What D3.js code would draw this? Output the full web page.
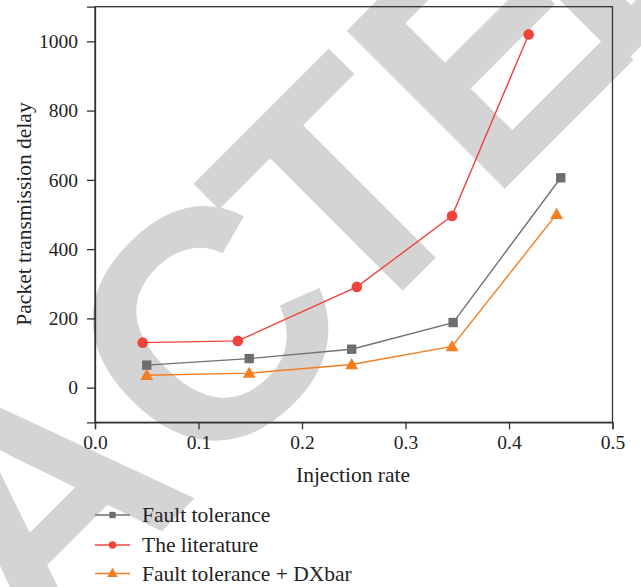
<!DOCTYPE html>
<html><head><meta charset="utf-8">
<script src="https://cdn.jsdelivr.net/npm/d3@7"></script>
<style>body{margin:0;background:#fff}svg{display:block}</style>
</head><body>
<script>
const seriesNames = ["Fault tolerance", "The literature", "Fault tolerance + DXbar"];
const faultX = [0.050, 0.149, 0.248, 0.346, 0.450];
const faultY = [65, 84, 111, 188, 606];
const litX = [0.046, 0.138, 0.253, 0.345, 0.419];
const litY = [130, 135, 291, 496, 1020];
const dxX = [0.050, 0.149, 0.248, 0.345, 0.446];
const dxY = [36, 42, 67, 119, 501];
const xTicks = [0, 0.1, 0.2, 0.3, 0.4, 0.5];
const yTicks = [0, 200, 400, 600, 800, 1000];
const colors = ["#6d6d72", "#f0443a", "#f47d20"];
const lineColors = ["#727276", "#f0443a", "#f47d20"];
const symbols = [d3.symbolSquare, d3.symbolCircle, d3.symbolTriangle];

const W = 641, H = 587;
const svg = d3.select("body").append("svg").attr("width", W).attr("height", H);
const font = "'Liberation Serif', 'DejaVu Serif', serif";
const tickFs = 19.5, titleFs = 21.5;

// watermark (split into pieces to follow the reference letter spacing)
const wm = [
  {t: "RETRA", x: 200.7, y: 492.3, anchor: "end"},
  {t: "C", x: 285.7, y: 407.3, anchor: "middle"},
  {t: "TE", x: 349, y: 344.5, anchor: "start"},
  {t: "D", x: 608, y: 79, anchor: "start"}
];
wm.forEach(w => {
  svg.append("text")
    .attr("transform", `translate(${w.x},${w.y}) rotate(-45)`)
    .attr("text-anchor", w.anchor)
    .attr("font-family", "'Liberation Sans', Arial, sans-serif")
    .attr("font-weight", "bold")
    .attr("font-size", 325)
    .attr("fill", "#d4d4d4")
    .text(w.t);
});

const x = d3.scaleLinear().domain([0, 0.5]).range([95, 612.5]);
const y = d3.scaleLinear().domain([-100, 1100]).range([422.3, 6.7]);

const axisColor = "#333";
// frame
svg.append("rect").attr("x", x(0)).attr("y", y(1100)).attr("width", x(0.5) - x(0)).attr("height", y(-100) - y(1100))
  .attr("fill", "none").attr("stroke", axisColor).attr("stroke-width", 1.3);

// x axis
const gx = svg.append("g").attr("transform", `translate(0,${y(-100)})`);
gx.call(d3.axisBottom(x).tickValues(d3.range(0, 0.51, 0.05)).tickSize(4).tickFormat(""))
  .call(g => g.select(".domain").remove());
gx.call(d3.axisBottom(x).tickValues(xTicks).tickSize(7).tickPadding(6).tickFormat(d3.format(".1f")))
  .call(g => g.select(".domain").attr("stroke", axisColor).attr("stroke-width", 1.3));
gx.selectAll("line").attr("stroke", axisColor).attr("stroke-width", 1.3);
gx.selectAll("text").attr("font-family", font).attr("font-size", tickFs).attr("fill", "#222");

// y axis
const gy = svg.append("g").attr("transform", `translate(${x(0)},0)`);
gy.call(d3.axisLeft(y).tickValues(d3.range(-100, 1101, 100)).tickSize(5).tickFormat(""))
  .call(g => g.select(".domain").remove());
gy.call(d3.axisLeft(y).tickValues(yTicks).tickSize(8).tickPadding(9).tickFormat(d3.format("d")))
  .call(g => g.select(".domain").attr("stroke", axisColor).attr("stroke-width", 1.3));
gy.selectAll("line").attr("stroke", axisColor).attr("stroke-width", 1.3);
gy.selectAll("text").attr("font-family", font).attr("font-size", tickFs).attr("fill", "#222");

// axis titles
svg.append("text").attr("x", 353).attr("y", 482).attr("text-anchor", "middle")
  .attr("font-family", font).attr("font-size", titleFs).attr("fill", "#222").text("Injection rate");
svg.append("text").attr("transform", `translate(31,214) rotate(-90)`).attr("text-anchor", "middle")
  .attr("font-family", font).attr("font-size", titleFs).attr("fill", "#222").text("Packet transmission delay");

// series
const data = [
  faultX.map((v, i) => [v, faultY[i]]),
  litX.map((v, i) => [v, litY[i]]),
  dxX.map((v, i) => [v, dxY[i]])
];
const line = d3.line().x(d => x(d[0])).y(d => y(d[1]));
const symSizes = [88, 88, 72];
const order = [0, 2, 1];
order.forEach(k => {
  svg.append("path").datum(data[k]).attr("d", line).attr("fill", "none")
    .attr("stroke", lineColors[k]).attr("stroke-width", 1.4);
  svg.selectAll(null).data(data[k]).enter().append("path")
    .attr("transform", d => `translate(${x(d[0])},${y(d[1]) + (k === 2 ? 1 : 0)})`)
    .attr("d", d3.symbol().type(symbols[k]).size(symSizes[k]))
    .attr("fill", colors[k]);
});

// legend
const legY = [515, 545, 573.5];
const legSizes = [40, 45, 50];
seriesNames.forEach((name, k) => {
  const g = svg.append("g").attr("transform", `translate(95,${legY[k]})`);
  g.append("line").attr("x1", 0).attr("x2", 35).attr("y1", 0).attr("y2", 0)
    .attr("stroke", lineColors[k]).attr("stroke-width", 1.4);
  g.append("path").attr("transform", `translate(17.5,${k === 2 ? 0.5 : 0})`)
    .attr("d", d3.symbol().type(symbols[k]).size(legSizes[k])).attr("fill", colors[k]);
  g.append("text").attr("x", 47).attr("y", 7).attr("font-family", font).attr("font-size", titleFs)
    .attr("fill", "#222").text(name);
});
</script>
</body></html>
